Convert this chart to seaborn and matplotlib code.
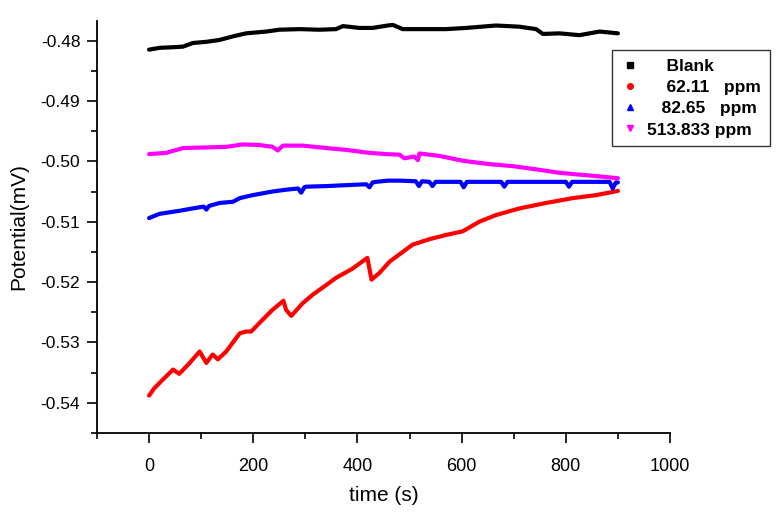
import matplotlib
matplotlib.use("Agg")
import matplotlib.pyplot as plt
from matplotlib.lines import Line2D
from matplotlib.ticker import MultipleLocator, FormatStrFormatter
import seaborn as sns

# values (time in s, potential in mV)
blank_t = [0, 20, 46, 65, 84, 110, 135, 161, 186, 225, 250, 289, 327, 359, 372,
           404, 429, 458, 468, 487, 519, 570, 609, 666, 711, 743, 756, 788, 826,
           865, 900]
blank_v = [-0.4815, -0.4812, -0.4811, -0.4810, -0.4804, -0.4802, -0.4799, -0.4793,
           -0.4788, -0.4785, -0.4782, -0.4781, -0.4782, -0.4781, -0.4776, -0.4779,
           -0.4779, -0.4775, -0.4774, -0.4781, -0.4781, -0.4781, -0.4779, -0.4775,
           -0.4777, -0.4781, -0.4789, -0.4788, -0.4791, -0.4785, -0.4788]

red_t = [0, 10, 26, 46, 58, 78, 97, 110, 122, 132, 148, 174, 186, 196, 215, 237,
         258, 263, 273, 295, 314, 340, 359, 390, 419, 427, 442, 462, 506, 538,
         570, 602, 634, 666, 711, 762, 813, 858, 900]
red_v = [-0.5388, -0.5376, -0.5362, -0.5345, -0.5352, -0.5334, -0.5315, -0.5334,
         -0.5320, -0.5328, -0.5315, -0.5285, -0.5282, -0.5282, -0.5265, -0.5246,
         -0.5231, -0.5246, -0.5256, -0.5235, -0.5221, -0.5205, -0.5193, -0.5178,
         -0.5160, -0.5196, -0.5185, -0.5166, -0.5138, -0.5129, -0.5122, -0.5116,
         -0.5100, -0.5089, -0.5078, -0.5069, -0.5061, -0.5056, -0.5049]

blue_t = [0, 20, 58, 84, 105, 110, 115, 135, 161, 174, 199, 237, 263, 286, 292,
          298, 302, 340, 391, 417, 423, 429, 436, 458, 481, 512, 518, 524, 538,
          544, 550, 570, 598, 604, 610, 634, 676, 682, 688, 724, 775, 800, 806,
          812, 826, 858, 884, 890, 896, 900]
blue_v = [-0.5094, -0.5087, -0.5082, -0.5078, -0.5075, -0.5080, -0.5074, -0.5069,
          -0.5067, -0.5061, -0.5056, -0.5050, -0.5047, -0.5045, -0.5052, -0.5043,
          -0.5042, -0.5041, -0.5039, -0.5038, -0.5043, -0.5035, -0.5034, -0.5032,
          -0.5032, -0.5033, -0.5041, -0.5033, -0.5034, -0.5041, -0.5034, -0.5034,
          -0.5034, -0.5043, -0.5034, -0.5034, -0.5034, -0.5042, -0.5034, -0.5034,
          -0.5034, -0.5034, -0.5042, -0.5034, -0.5034, -0.5034, -0.5034, -0.5045,
          -0.5035, -0.5035]

magenta_t = [0, 33, 65, 110, 148, 180, 212, 237, 247, 257, 295, 340, 378, 423,
             455, 481, 490, 509, 516, 519, 557, 602, 647, 698, 749, 788, 826, 865,
             900]
magenta_v = [-0.4988, -0.4986, -0.4978, -0.4977, -0.4976, -0.4972, -0.4973,
             -0.4976, -0.4982, -0.4974, -0.4974, -0.4978, -0.4981, -0.4986,
             -0.4988, -0.4989, -0.4995, -0.4992, -0.4998, -0.4987, -0.4991,
             -0.4999, -0.5004, -0.5008, -0.5014, -0.5019, -0.5022, -0.5025,
             -0.5028]

labels = ["    Blank", "    62.11   ppm", "   82.65   ppm", "513.833 ppm"]
colors = ["black", "#ff0000", "#0000ff", "#ff00ff"]
markers = ["s", "o", "^", "v"]

sns.set_style("ticks")
plt.rcParams["font.family"] = ["Liberation Sans", "DejaVu Sans"]
plt.rcParams["axes.unicode_minus"] = False
plt.rcParams.update({"text.color": "black", "axes.labelcolor": "black",
                     "xtick.color": "black", "ytick.color": "black",
                     "axes.edgecolor": "black"})

fig = plt.figure(figsize=(7.84, 5.13), dpi=100)
ax = fig.add_axes([0.1237, 0.156, 0.7309, 0.8037])

series = [(blank_t, blank_v), (red_t, red_v), (blue_t, blue_v), (magenta_t, magenta_v)]
for (t, v), c in zip(series, colors):
    sns.lineplot(x=t, y=v, color=c, linewidth=3, ax=ax, legend=False)

ax.set_xlim(-100, 1000)
ax.set_ylim(-0.545, -0.4767)
ax.xaxis.set_major_locator(MultipleLocator(200))
ax.xaxis.set_minor_locator(MultipleLocator(100))
ax.yaxis.set_major_locator(MultipleLocator(0.01))
ax.yaxis.set_minor_locator(MultipleLocator(0.005))
ax.yaxis.set_major_formatter(FormatStrFormatter("%.2f"))

sns.despine(ax=ax)
for s in ["left", "bottom"]:
    ax.spines[s].set_linewidth(1.3)
ax.tick_params(which="major", direction="out", length=7, width=1.2)
ax.tick_params(which="minor", direction="out", length=4, width=1.2)
ax.tick_params(axis="y", which="major", labelsize=12.5, pad=5)
ax.tick_params(axis="x", which="major", labelsize=13, pad=11)

ax.set_xlabel("time (s)", fontsize=15, labelpad=8)
ax.set_ylabel("Potential(mV)", fontsize=15, labelpad=9)

handles = [Line2D([], [], linestyle="None", marker=m, color=c, markersize=4)
           for m, c in zip(markers, colors)]
fig.legend(handles, labels, loc="upper left", bbox_to_anchor=(0.781, 0.9025),
           prop={"weight": "bold", "size": 12.5}, frameon=True, fancybox=False,
           edgecolor="#333333", framealpha=1, labelspacing=0.35,
           handlelength=1.0, handletextpad=0.5, borderpad=0.5, borderaxespad=0)

plt.savefig("out.png", dpi=100)
plt.close()
